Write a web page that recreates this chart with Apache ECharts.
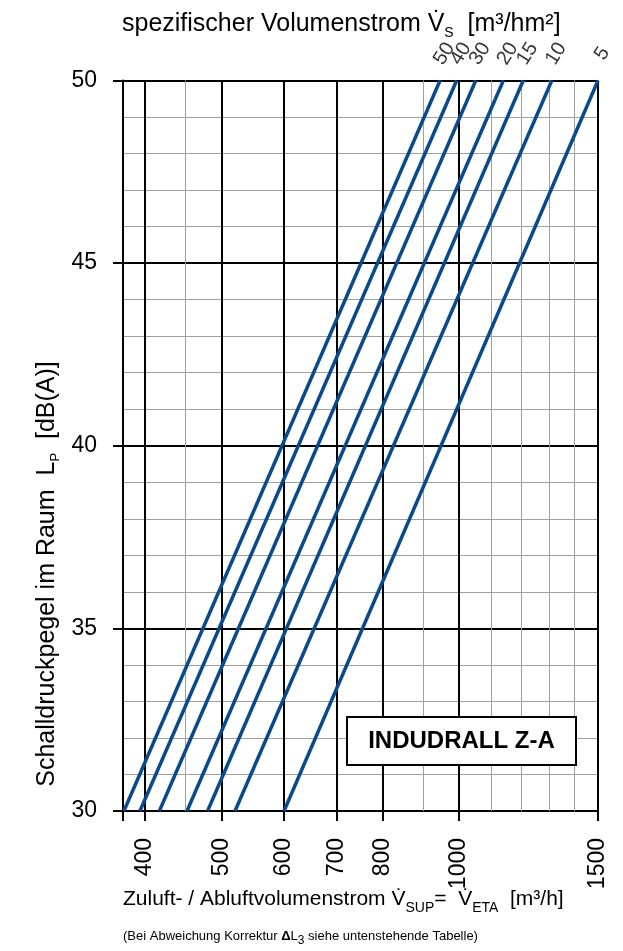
<!DOCTYPE html>
<html><head><meta charset="utf-8">
<script src="https://cdn.jsdelivr.net/npm/echarts@6/dist/echarts.min.js"></script>
<style>html,body{margin:0;padding:0;background:#fff}#c{width:623px;height:951px}</style>
</head><body><div id="c"></div>
<script>
// ---- data ----
const xTickValues = [375, 400, 500, 600, 700, 800, 1000, 1500];
const xLabelValues = [400, 500, 600, 700, 800, 1000, 1500];
const xMinorValues = [450, 900, 1100, 1200, 1300, 1400];
const curveNames = ['50', '40', '30', '20', '15', '10', '5'];
const flowAt30dB = [376, 394, 417, 452, 480, 520, 600];
const flowAt50dB = [946, 993, 1050, 1138, 1206, 1311, 1500];
const levelRange = [30, 50];

const REG = "'Liberation Sans', Arial, sans-serif";
const BLUE = '#0b4a8a';

const chart = echarts.init(document.getElementById('c'), null, {renderer: 'canvas'});

const series = [];
// minor vertical grid lines (through the x scale)
series.push({
  name: 'minorGrid', type: 'line', xAxisIndex: 0, yAxisIndex: 0,
  data: [[xTickValues[0], levelRange[0]]], symbol: 'none', silent: true,
  lineStyle: {opacity: 0},
  markLine: {
    silent: true, symbol: 'none', animation: false,
    label: {show: false},
    lineStyle: {color: '#a0a0a0', width: 1, type: 'solid'},
    emphasis: {disabled: true},
    data: xMinorValues.map(v => ({xAxis: v}))
  },
  z: 1
});
curveNames.forEach((n, i) => {
  series.push({
    name: 'line' + n, type: 'line', xAxisIndex: 0, yAxisIndex: 0,
    data: [[flowAt30dB[i], levelRange[0]], [flowAt50dB[i], levelRange[1]]],
    symbol: 'none', silent: true, clip: true,
    lineStyle: {color: BLUE, width: 3.5},
    z: 5
  });
  series.push({
    name: 'lab' + n, type: 'scatter', xAxisIndex: 0, yAxisIndex: 0,
    data: [[flowAt50dB[i], levelRange[1]]],
    symbolSize: 0, silent: true, clip: false,
    itemStyle: {color: 'transparent'},
    label: {
      show: true, formatter: n, position: 'top', distance: 20, offset: [8, 0],
      rotate: 58, align: 'center', verticalAlign: 'middle',
      fontFamily: REG, fontSize: 20, color: '#000'
    },
    z: 6
  });
});

const option = {
  backgroundColor: '#fff',
  animation: false,
  grid: {left: 123, right: 25, top: 80.5, bottom: 140, containLabel: false},
  xAxis: [
    {
      type: 'log', logBase: 10, min: 375, max: 1500, position: 'bottom',
      axisLine: {show: true, lineStyle: {color: '#000', width: 2}},
      axisTick: {show: true, inside: false, length: 10, customValues: xTickValues, lineStyle: {color: '#000', width: 2}},
      axisLabel: {show: true, customValues: xLabelValues, rotate: 90, margin: 27, fontSize: 23,
                  fontFamily: REG, color: '#000', formatter: v => String(Math.round(v))},
      splitLine: {show: true, lineStyle: {color: '#000', width: 2}},
      z: 3
    }
  ],
  yAxis: [{
    type: 'value', min: levelRange[0], max: levelRange[1], interval: 5,
    axisLine: {show: true, lineStyle: {color: '#000', width: 2}},
    axisTick: {show: true, length: 10, lineStyle: {color: '#000', width: 2}},
    axisLabel: {fontSize: 23, margin: 26, fontFamily: REG, color: '#000'},
    splitLine: {show: true, lineStyle: {color: '#000', width: 2}},
    minorTick: {show: false, splitNumber: 5},
    minorSplitLine: {show: true, lineStyle: {color: '#a0a0a0', width: 1}},
    z: 0
  }],
  series: series,
  graphic: [
    {
      type: 'text', left: 122, top: 12, z: 10,
      style: {
        text: '{a|spezifischer Volumenstrom V\u0307}{s|S}{a|  [m³/hm²]}',
        rich: {
          a: {fontFamily: REG, fontSize: 25, color: '#000', lineHeight: 30, verticalAlign: 'bottom'},
          s: {fontFamily: REG, fontSize: 14, color: '#000', lineHeight: 30, verticalAlign: 'bottom', padding: [0, 0, -3, 0]}
        }
      }
    },
    {
      type: 'text', x: 45, y: 574, rotation: Math.PI / 2, z: 10,
      style: {
        text: '{a|Schalldruckpegel im Raum  L}{s|P}{a|  [dB(A)]}',
        align: 'center', verticalAlign: 'middle',
        rich: {
          a: {fontFamily: REG, fontSize: 25, color: '#000', lineHeight: 30, verticalAlign: 'bottom'},
          s: {fontFamily: REG, fontSize: 13, color: '#000', lineHeight: 30, verticalAlign: 'bottom', padding: [0, 0, -2, 0]}
        }
      }
    },
    {
      type: 'text', left: 123, top: 889, z: 10,
      style: {
        text: '{a|Zuluft- / Abluftvolumenstrom V\u0307}{s|SUP}{a|=  V\u0307}{s|ETA}{a|  [m³/h]}',
        rich: {
          a: {fontFamily: REG, fontSize: 21, color: '#000', lineHeight: 27, verticalAlign: 'bottom'},
          s: {fontFamily: REG, fontSize: 14, color: '#000', lineHeight: 27, verticalAlign: 'bottom', padding: [0, 0, -5, 0]}
        }
      }
    },
    {
      type: 'text', left: 123, top: 930, z: 10,
      style: {
        text: '{a|(Bei Abweichung Korrektur }{b|\u0394}{a|L}{s|3}{a| siehe untenstehende Tabelle)}',
        rich: {
          a: {fontFamily: REG, fontSize: 13, color: '#000', lineHeight: 18, verticalAlign: 'bottom'},
          b: {fontFamily: REG, fontSize: 13, fontWeight: 'bold', color: '#000', lineHeight: 18, verticalAlign: 'bottom'},
          s: {fontFamily: REG, fontSize: 12, color: '#000', lineHeight: 18, verticalAlign: 'bottom', padding: [0, 0, -4, 0]}
        }
      }
    },
    {
      type: 'rect', z: 10,
      shape: {x: 347, y: 717, width: 229, height: 48},
      style: {fill: '#fff', stroke: '#000', lineWidth: 2}
    },
    {
      type: 'text', x: 461.5, y: 741.5, z: 11,
      style: {
        text: 'INDUDRALL Z-A', align: 'center', verticalAlign: 'middle',
        fontFamily: REG, fontSize: 24, fontWeight: 'bold', fill: '#000'
      }
    }
  ]
};
chart.setOption(option);
</script></body></html>
